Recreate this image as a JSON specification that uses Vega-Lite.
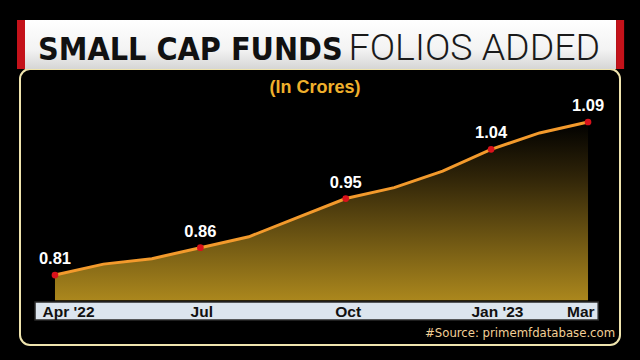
{
  "$schema": "https://vega.github.io/schema/vega-lite/v6.json",
  "width": 600,
  "height": 276,
  "autosize": {"type": "none"},
  "padding": {"left": 20, "top": 69, "right": 20, "bottom": 15},
  "background": "#000000",
  "config": {
    "view": {"stroke": "#efe4ae", "strokeWidth": 2, "cornerRadius": 10},
    "axisY": {"disable": true}
  },
  "data": {
    "values": [
      {"i": 0, "month": "Apr 2022", "value": 0.81},
      {"i": 1, "month": "May 2022", "value": 0.83},
      {"i": 2, "month": "Jun 2022", "value": 0.84},
      {"i": 3, "month": "Jul 2022", "value": 0.86},
      {"i": 4, "month": "Aug 2022", "value": 0.88},
      {"i": 5, "month": "Sep 2022", "value": 0.915},
      {"i": 6, "month": "Oct 2022", "value": 0.95},
      {"i": 7, "month": "Nov 2022", "value": 0.97},
      {"i": 8, "month": "Dec 2022", "value": 1.0},
      {"i": 9, "month": "Jan 2023", "value": 1.04},
      {"i": 10, "month": "Feb 2023", "value": 1.07},
      {"i": 11, "month": "Mar 2023", "value": 1.09}
    ]
  },
  "layer": [
    {
      "mark": {
        "type": "area",
        "color": {
          "gradient": "linear", "x1": 0, "y1": 0, "x2": 0, "y2": 1,
          "stops": [
            {"offset": 0, "color": "#000000"},
            {"offset": 0.3, "color": "#2e2308"},
            {"offset": 1, "color": "#ab871d"}
          ]
        }
      },
      "encoding": {
        "x": {
          "field": "i", "type": "quantitative",
          "scale": {"domain": [-0.722, 11.66], "nice": false, "zero": false},
          "axis": {
            "values": [0.27, 3.02, 6.04, 9.12, 10.84],
            "labelExpr": "datum.value < 1 ? \"Apr '22\" : datum.value < 4 ? 'Jul' : datum.value < 7 ? 'Oct' : datum.value < 10 ? \"Jan '23\" : 'Mar'",
            "domain": false, "ticks": false, "tickSize": 0, "grid": false, "title": null,
            "offset": -43, "labelPadding": 14, "labelBaseline": "alphabetic",
            "labelFont": "Liberation Sans",
            "labelFontWeight": "bold", "labelFontSize": 15.5, "labelColor": "#111111",
            "labelAlign": "center", "labelOverlap": false, "labelBound": false, "labelFlush": false,
            "zindex": 1
          }
        },
        "y": {
          "field": "value", "type": "quantitative",
          "scale": {"domain": [0.682, 1.187], "nice": false, "zero": false}
        },
        "y2": {"datum": 0.764}
      }
    },
    {
      "data": {"values": [{}]},
      "mark": {"type": "rect", "fill": "#dce5ee", "stroke": "#2a2a2a", "strokeWidth": 1.5},
      "encoding": {
        "x": {"datum": -0.412, "type": "quantitative"},
        "x2": {"datum": 11.21},
        "y": {"datum": 0.7606, "type": "quantitative"},
        "y2": {"datum": 0.7276}
      }
    },
    {
      "mark": {"type": "line", "color": "#f39a2c", "strokeWidth": 3},
      "encoding": {
        "x": {"field": "i", "type": "quantitative"},
        "y": {"field": "value", "type": "quantitative"}
      }
    },
    {
      "transform": [{"filter": "datum.i % 3 == 0 || datum.i == 11"}],
      "mark": {"type": "circle", "size": 45, "color": "#d9121b", "opacity": 1},
      "encoding": {
        "x": {"field": "i", "type": "quantitative"},
        "y": {"field": "value", "type": "quantitative"}
      }
    },
    {
      "transform": [{"filter": "datum.i % 3 == 0 || datum.i == 11"}],
      "mark": {"type": "text", "dy": -11, "baseline": "alphabetic", "align": "center", "font": "Liberation Sans", "fontWeight": "bold", "fontSize": 16.5, "color": "#ffffff"},
      "encoding": {
        "x": {"field": "i", "type": "quantitative"},
        "y": {"field": "value", "type": "quantitative"},
        "text": {"field": "value", "type": "quantitative", "format": ".2f"}
      }
    },
    {
      "data": {"values": [{}]},
      "mark": {
        "type": "rect",
        "fill": {
          "gradient": "linear", "x1": 0, "y1": 0, "x2": 0, "y2": 1,
          "stops": [
            {"offset": 0, "color": "#ffffff"},
            {"offset": 0.6, "color": "#f3f3f3"},
            {"offset": 1, "color": "#d6d6d6"}
          ]
        }
      },
      "encoding": {
        "x": {"datum": -0.619, "type": "quantitative"},
        "x2": {"datum": 11.579},
        "y": {"datum": 1.2767, "type": "quantitative"},
        "y2": {"datum": 1.187}
      }
    },
    {
      "data": {"values": [{}]},
      "mark": {"type": "rect", "fill": "#c4121a"},
      "encoding": {
        "x": {"datum": -0.784, "type": "quantitative"},
        "x2": {"datum": -0.619},
        "y": {"datum": 1.2767, "type": "quantitative"},
        "y2": {"datum": 1.187}
      }
    },
    {
      "data": {"values": [{}]},
      "mark": {"type": "rect", "fill": "#c4121a"},
      "encoding": {
        "x": {"datum": 11.579, "type": "quantitative"},
        "x2": {"datum": 11.745},
        "y": {"datum": 1.2767, "type": "quantitative"},
        "y2": {"datum": 1.187}
      }
    },
    {
      "data": {"values": [{}]},
      "mark": {"type": "text", "text": "SMALL CAP FUNDS", "align": "left", "baseline": "alphabetic", "font": "DejaVu Sans Condensed, sans-serif", "fontWeight": "bold", "fontSize": 32, "color": "#111111"},
      "encoding": {
        "x": {"datum": -0.35, "type": "quantitative"},
        "y": {"datum": 1.2035, "type": "quantitative"}
      }
    },
    {
      "data": {"values": [{}]},
      "mark": {"type": "text", "text": "FOLIOS ADDED", "align": "right", "baseline": "alphabetic", "font": "Roboto", "fontWeight": 300, "fontSize": 37.5, "color": "#1a1a1a"},
      "encoding": {
        "x": {"datum": 11.25, "type": "quantitative"},
        "y": {"datum": 1.2035, "type": "quantitative"}
      }
    },
    {
      "data": {"values": [{}]},
      "mark": {"type": "text", "text": "(In Crores)", "align": "center", "baseline": "alphabetic", "font": "Liberation Sans", "fontWeight": "bold", "fontSize": 18, "color": "#f0b02c"},
      "encoding": {
        "x": {"datum": 5.367, "type": "quantitative"},
        "y": {"datum": 1.143, "type": "quantitative"}
      }
    },
    {
      "data": {"values": [{}]},
      "mark": {"type": "text", "text": "#Source: primemfdatabase.com", "align": "right", "baseline": "alphabetic", "font": "DejaVu Sans Condensed, sans-serif", "fontSize": 13, "color": "#f2cf96"},
      "encoding": {
        "x": {"datum": 11.559, "type": "quantitative"},
        "y": {"datum": 0.6965, "type": "quantitative"}
      }
    }
  ]
}
